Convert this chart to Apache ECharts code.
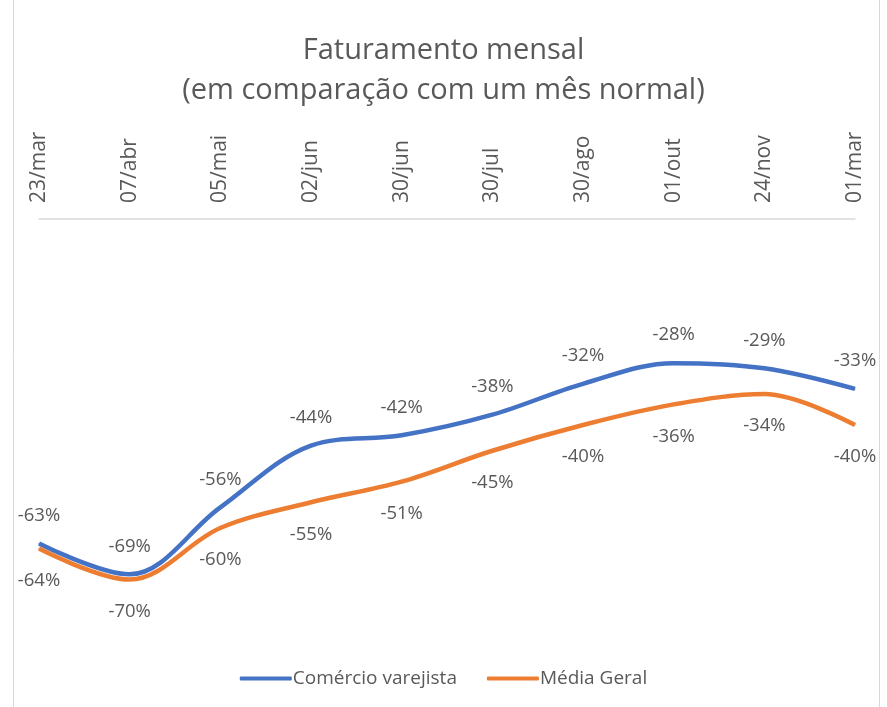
<!DOCTYPE html>
<html><head><meta charset="utf-8">
<script src="https://cdn.jsdelivr.net/npm/echarts@6/dist/echarts.min.js"></script>
<style>html,body{margin:0;padding:0;background:#fff}#c{width:887px;height:707px}</style>
</head><body><div id="c"></div>
<script>
const categories = ['23/mar','07/abr','05/mai','02/jun','30/jun','30/jul','30/ago','01/out','24/nov','01/mar'];
const varejo = [-63,-69,-56,-44,-42,-38,-32,-28,-29,-33];
const media = [-64,-70,-60,-55,-51,-45,-40,-36,-34,-40];
const seriesNames = ['Comércio varejista','Média Geral'];
const FONT = '"Open Sans", "Noto Sans", sans-serif';
const chart = echarts.init(document.getElementById('c'));
const lbl = (pos, d) => ({show:true, position:pos, distance:d, color:'#595959', fontSize:18.5, fontFamily:FONT, formatter: p => p.value + '%'});
chart.setOption({
  animation:false,
  title:{text:'Faturamento mensal\n(em comparação com um mês normal)', left:'center', top:26,
    textStyle:{color:'#595959', fontSize:29, fontWeight:'normal', fontFamily:FONT, lineHeight:40}},
  graphic:[{type:'rect', shape:{x:13.5,y:-2,width:866,height:711}, style:{fill:'none', stroke:'#d9d9d9', lineWidth:1}}],
  grid:{left:39, right:32, top:219, bottom:76},
  legend:{bottom:14, left:'center', itemWidth:52, itemHeight:4, itemGap:30, icon:'roundRect',
    padding:[5,5,5,15],
    textStyle:{color:'#595959', fontSize:19, fontFamily:FONT, padding:[0,0,0,-4]}},
  xAxis:{type:'category', position:'top', boundaryGap:false, data:categories,
    axisLine:{lineStyle:{color:'#d9d9d9', width:1.5}}, axisTick:{show:false},
    axisLabel:{rotate:90, color:'#595959', fontSize:21, fontFamily:FONT, margin:16}},
  yAxis:{type:'value', min:-80, max:0, show:false, splitLine:{show:false}},
  series:[
    {name:seriesNames[0], type:'line', data:varejo, smooth:0.35, symbol:'circle', symbolSize:1,
     lineStyle:{color:'#4472C4', width:4.5}, itemStyle:{color:'#4472C4'}, label:lbl('top', 18)},
    {name:seriesNames[1], type:'line', data:media, smooth:0.35, symbol:'circle', symbolSize:1,
     lineStyle:{color:'#ED7D31', width:4.5}, itemStyle:{color:'#ED7D31'}, label:lbl('bottom', 22)}
  ]
});
</script></body></html>
